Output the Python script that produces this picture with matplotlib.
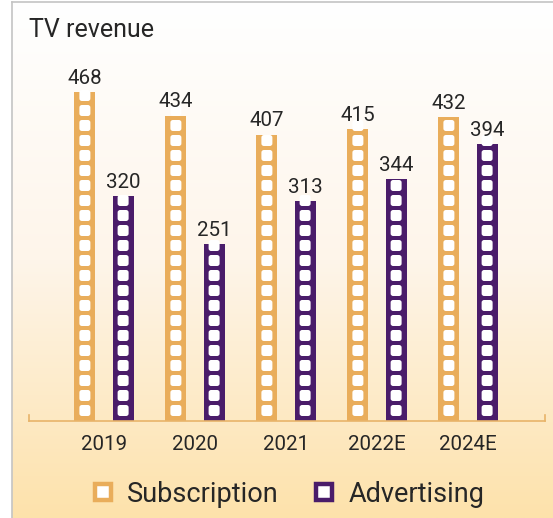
import numpy as np
import matplotlib
matplotlib.use("Agg")
import matplotlib.pyplot as plt
from matplotlib.patches import FancyBboxPatch
from matplotlib.lines import Line2D
from matplotlib.transforms import IdentityTransform
from matplotlib.colors import LinearSegmentedColormap

plt.rcParams['font.family'] = ['Roboto', 'DejaVu Sans']

# data
years = ['2019', '2020', '2021', '2022E', '2024E']
subscription = [468, 434, 407, 415, 432]
advertising = [320, 251, 313, 344, 394]

sub_color = '#e9ad5b'
adv_color = '#4a1c6a'
text_color = '#262626'

W, H = 553, 518
fig = plt.figure(figsize=(W / 100, H / 100), dpi=100)
fig.patch.set_facecolor('white')

# background panel with vertical gradient
bg = fig.add_axes([12 / W, 0, 1 - 12 / W, 1 - 2 / H], zorder=-5)
cmap = LinearSegmentedColormap.from_list('bg', ['#ffffff', '#fef5ea', '#fde2ab'])
grad = np.linspace(0, 1, 256).reshape(-1, 1)
bg.imshow(grad, aspect='auto', cmap=cmap, extent=[0, 1, 1, 0])
bg.set_xlim(0, 1)
bg.set_ylim(1, 0)
bg.axis('off')
# panel border (top and left)
fig.add_artist(Line2D([12 / W, 12 / W], [0, 1 - 2 / H], color='#c4c4c4', lw=1.2))
fig.add_artist(Line2D([12 / W, 1], [1 - 2 / H, 1 - 2 / H], color='#c4c4c4', lw=1.2))

# main axes
ax_left, ax_right = 29, 545
ax_top, ax_bot = 60, 421
ax = fig.add_axes([ax_left / W, (H - ax_bot) / H, (ax_right - ax_left) / W, (ax_bot - ax_top) / H])
ax.set_facecolor('none')
x = np.arange(len(years))
xmin = (ax_left - 104) / 91
xmax = (ax_right - 104) / 91
ax.set_xlim(xmin, xmax)
ax.set_ylim(0, 513)

bw = 0.23
off = 0.21
bars_s = ax.bar(x - off, subscription, bw, color=sub_color, zorder=2)
bars_a = ax.bar(x + off, advertising, bw, color=adv_color, zorder=2)

for s in ['top', 'right', 'left']:
    ax.spines[s].set_visible(False)
ax.spines['bottom'].set_color('#e8b46a')
ax.spines['bottom'].set_linewidth(1.2)
for xe in [xmin, xmax]:
    ax.plot([xe, xe], [0, 8], color='#e8b46a', lw=1.2, clip_on=False)
ax.set_yticks([])
ax.set_xticks(x)
ax.set_xticklabels(years, fontsize=14.8, color=text_color)
ax.tick_params(axis='x', length=0, pad=10)

# film-strip windows inside each bar (drawn in pixels)
fig.canvas.draw()
pitch, sq_w, sq_h, bottom_gap = 15, 11, 11, 5
for bar in list(bars_s) + list(bars_a):
    (px0, py0) = ax.transData.transform((bar.get_x(), 0))
    (px1, py1) = ax.transData.transform((bar.get_x() + bar.get_width(), bar.get_height()))
    cx = (px0 + px1) / 2
    yb = py0 + bottom_gap
    while yb < py1:
        sq = FancyBboxPatch((cx - sq_w / 2, yb), sq_w, sq_h,
                            boxstyle='round,pad=0,rounding_size=2.5',
                            transform=IdentityTransform(), facecolor='white',
                            edgecolor='none', zorder=3)
        sq.set_clip_path(bar)
        ax.add_artist(sq)
        yb += pitch

# value labels
for bars, vals in [(bars_s, subscription), (bars_a, advertising)]:
    for bar, v in zip(bars, vals):
        ax.annotate(str(v), (bar.get_x() + bar.get_width() / 2, v),
                    xytext=(0, 3), textcoords='offset points', ha='center', va='bottom',
                    fontsize=14.8, color=text_color)

fig.text(29 / W, 1 - 37 / H, 'TV revenue', fontsize=18, color=text_color, va='baseline')

handles = [Line2D([], [], marker='s', ls='none', markersize=11, markerfacecolor='white',
                  markeredgecolor=sub_color, markeredgewidth=3.2),
           Line2D([], [], marker='s', ls='none', markersize=11, markerfacecolor='white',
                  markeredgecolor=adv_color, markeredgewidth=3.2)]
fig.legend(handles, ['Subscription', 'Advertising'], loc='center', ncol=2,
           bbox_to_anchor=(287 / W, 1 - 494 / H), frameon=False, fontsize=19.5,
           handlelength=1.0, handletextpad=0.39, columnspacing=1.17,
           labelcolor=text_color, borderpad=0, borderaxespad=0)

fig.savefig('out.png', dpi=100)
